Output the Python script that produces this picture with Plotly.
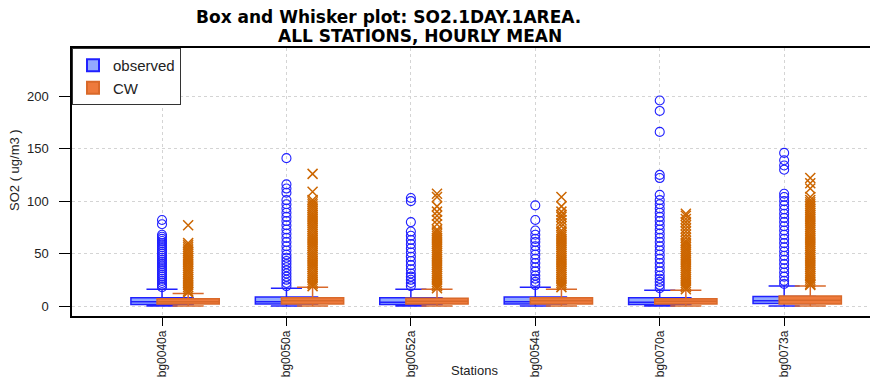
import plotly.graph_objects as go

stations = ["bg0040a", "bg0050a", "bg0052a", "bg0054a", "bg0070a", "bg0073a"]
positions = [1, 2, 3, 4, 5, 6]
cw_offset = 0.21

# observed box statistics
obs_q1 = [1.5, 2.0, 1.5, 2.0, 1.5, 2.5]
obs_med = [4.0, 4.0, 3.5, 4.0, 3.5, 5.0]
obs_q3 = [8.0, 8.5, 8.0, 8.5, 8.0, 9.0]
obs_lo = [0, 0, 0, 0, 0, 0]
obs_hi = [16, 17, 16, 18, 15, 19]

# CW box statistics
cw_q1 = [2.0, 2.0, 2.0, 2.0, 2.0, 2.0]
cw_med = [4.0, 5.0, 4.5, 5.0, 4.5, 5.5]
cw_q3 = [7.0, 8.0, 7.5, 8.0, 7.0, 9.5]
cw_lo = [0, 0, 0, 0, 0, 0]
cw_hi = [12, 18, 16, 16, 15, 19]

# outliers (observed)
obs_out_1 = [82, 78, 68, 66, 64, 62, 60, 58, 56, 54, 52, 50, 48, 46, 44, 42, 40, 38, 36, 34, 32, 30, 28, 26, 24, 22, 20, 18]
obs_out_2 = [141, 116, 112, 108, 101, 97, 93, 89, 85, 81, 77, 73, 69, 65, 61, 57, 53, 49, 46, 43, 40, 37, 34, 31, 28, 25, 22, 19]
obs_out_3 = [103, 100, 80, 71, 67, 63, 59, 55, 51, 47, 43, 39, 35, 31, 28, 25, 22, 19]
obs_out_4 = [96, 82, 72, 68, 64, 61, 57, 53, 49, 45, 41, 37, 33, 29, 26, 23, 20]
obs_out_5 = [196, 186, 166, 125, 122, 106, 101, 97, 93, 89, 85, 81, 77, 73, 69, 65, 61, 57, 53, 49, 45, 41, 37, 33, 29, 26, 23, 20, 17]
obs_out_6 = [146, 139, 134, 130, 107, 104, 100, 96, 92, 88, 84, 80, 76, 72, 68, 64, 60, 56, 52, 48, 44, 40, 36, 32, 28, 24, 21]

# outliers (CW)
cw_out_1 = [77, 60, 58, 56, 54, 52, 50, 48, 46, 44, 42, 40, 38, 36, 34, 32, 30, 28, 26, 24, 22, 20, 18, 16, 14, 13]
cw_out_2 = [126, 109, 101, 99, 97, 95, 93, 91, 89, 87, 85, 83, 81, 79, 77, 75, 73, 71, 69, 67, 65, 63, 61, 59, 57, 55,
            53, 51, 49, 47, 45, 43, 41, 39, 37, 35, 33, 31, 29, 27, 25, 23, 21, 19]
cw_out_3 = [107, 104, 95, 90, 86, 82, 78, 73, 71, 69, 67, 65, 63, 61, 59, 57, 55, 53, 51, 49, 47, 45, 43, 41, 39, 37,
            35, 33, 31, 29, 27, 25, 23, 21, 19, 17]
cw_out_4 = [104, 95, 90, 87, 85, 82, 79, 76, 72, 70, 68, 66, 64, 62, 60, 58, 56, 54, 52, 50, 48, 46, 44, 42, 40, 38,
            36, 34, 32, 30, 28, 26, 24, 22, 20, 18]
cw_out_5 = [88, 86, 83, 80, 77, 74, 71, 68, 65, 62, 60, 58, 56, 54, 52, 50, 48, 46, 44, 42, 40, 38, 36, 34, 32, 30,
            28, 26, 24, 22, 20, 18, 16]
cw_out_6 = [122, 117, 112, 104, 101, 99, 97, 95, 93, 91, 89, 87, 85, 83, 81, 79, 77, 75, 73, 71, 69, 67, 65, 63, 61,
            59, 57, 55, 53, 51, 49, 47, 45, 43, 41, 39, 37, 35, 33, 31, 29, 27, 25, 23, 21, 20]

obs_outliers = [obs_out_1, obs_out_2, obs_out_3, obs_out_4, obs_out_5, obs_out_6]
cw_outliers = [cw_out_1, cw_out_2, cw_out_3, cw_out_4, cw_out_5, cw_out_6]

y_ticks = [0, 50, 100, 150, 200]

BLUE = "#2020ff"
ORANGE = "#cc6600"

fig = go.Figure()

fig.add_trace(go.Box(
    name="observed", x=positions, q1=obs_q1, median=obs_med, q3=obs_q3,
    lowerfence=obs_lo, upperfence=obs_hi, width=0.5, whiskerwidth=0.5,
    boxpoints=False, fillcolor="rgba(110,140,255,0.75)",
    line=dict(color=BLUE, width=1.5), hoverinfo="skip",
))
fig.add_trace(go.Box(
    name="CW", x=[p + cw_offset for p in positions], q1=cw_q1, median=cw_med, q3=cw_q3,
    lowerfence=cw_lo, upperfence=cw_hi, width=0.5, whiskerwidth=0.5,
    boxpoints=False, fillcolor="#ee7a3c",
    line=dict(color="#d9692a", width=1.5), hoverinfo="skip",
))

ox, oy, cx, cy = [], [], [], []
for p, vals in zip(positions, obs_outliers):
    ox += [p] * len(vals)
    oy += vals
for p, vals in zip(positions, cw_outliers):
    cx += [p + cw_offset] * len(vals)
    cy += vals

fig.add_trace(go.Scatter(
    x=ox, y=oy, mode="markers", showlegend=False, hoverinfo="skip",
    marker=dict(symbol="circle-open", size=9, color=BLUE, line=dict(width=1.1, color=BLUE)),
))
fig.add_trace(go.Scatter(
    x=cx, y=cy, mode="markers", showlegend=False, hoverinfo="skip",
    marker=dict(symbol="x-thin-open", size=10, color=ORANGE, line=dict(width=1.5, color=ORANGE)),
))

font_family = "Liberation Sans, Arial, sans-serif"
title_font = "DejaVu Sans, Liberation Sans, sans-serif"

fig.update_layout(
    width=870, height=378,
    margin=dict(l=72, r=0, t=48, b=62),
    paper_bgcolor="white", plot_bgcolor="white",
    font=dict(family=font_family, size=13, color="black"),
    boxmode="overlay",
    showlegend=True,
    legend=dict(x=0, y=1, xanchor="left", yanchor="top",
                bgcolor="white", bordercolor="#333333", borderwidth=1,
                font=dict(size=15, color="#222222"), itemsizing="constant",
                tracegroupgap=0),
    xaxis=dict(
        range=[0.2765, 6.69], tickmode="array", tickvals=positions, ticktext=stations,
        tickangle=-90, ticks="outside", ticklen=8, tickcolor="black",
        showline=True, linecolor="black", linewidth=1.5, mirror=True,
        showgrid=True, gridcolor="#d4d4d4", griddash="dot", gridwidth=1,
        zeroline=False, tickfont=dict(size=12, color="#222222"), automargin=False,
    ),
    yaxis=dict(
        range=[-9.5, 246], tickmode="array", tickvals=y_ticks,
        ticks="outside", ticklen=11, tickcolor="black",
        showline=True, linecolor="black", linewidth=1.5, mirror=False,
        showgrid=True, gridcolor="#d4d4d4", griddash="dot", gridwidth=1,
        zeroline=False, tickfont=dict(size=13, color="#222222"),
        ticklabelstandoff=8, automargin=False,
    ),
    annotations=[
        dict(text="<b>Box and Whisker plot: SO2.1DAY.1AREA.</b>", xref="paper", yref="paper",
             x=0.396, y=1.114, xanchor="center", yanchor="middle", showarrow=False,
             font=dict(family=title_font, size=17, color="black")),
        dict(text="<b>ALL STATIONS, HOURLY MEAN</b>", xref="paper", yref="paper",
             x=0.436, y=1.045, xanchor="center", yanchor="middle", showarrow=False,
             font=dict(family=title_font, size=17, color="black")),
        dict(text="SO2 ( ug/m3 )", xref="paper", yref="paper", textangle=-90,
             x=-0.0714, y=0.545, xanchor="center", yanchor="middle", showarrow=False,
             font=dict(size=13, color="#222222")),
        dict(text="Stations", xref="paper", yref="paper",
             x=0.504, y=-0.203, xanchor="center", yanchor="middle", showarrow=False,
             font=dict(size=13, color="#222222")),
    ],
)

fig.write_html("out.html")
